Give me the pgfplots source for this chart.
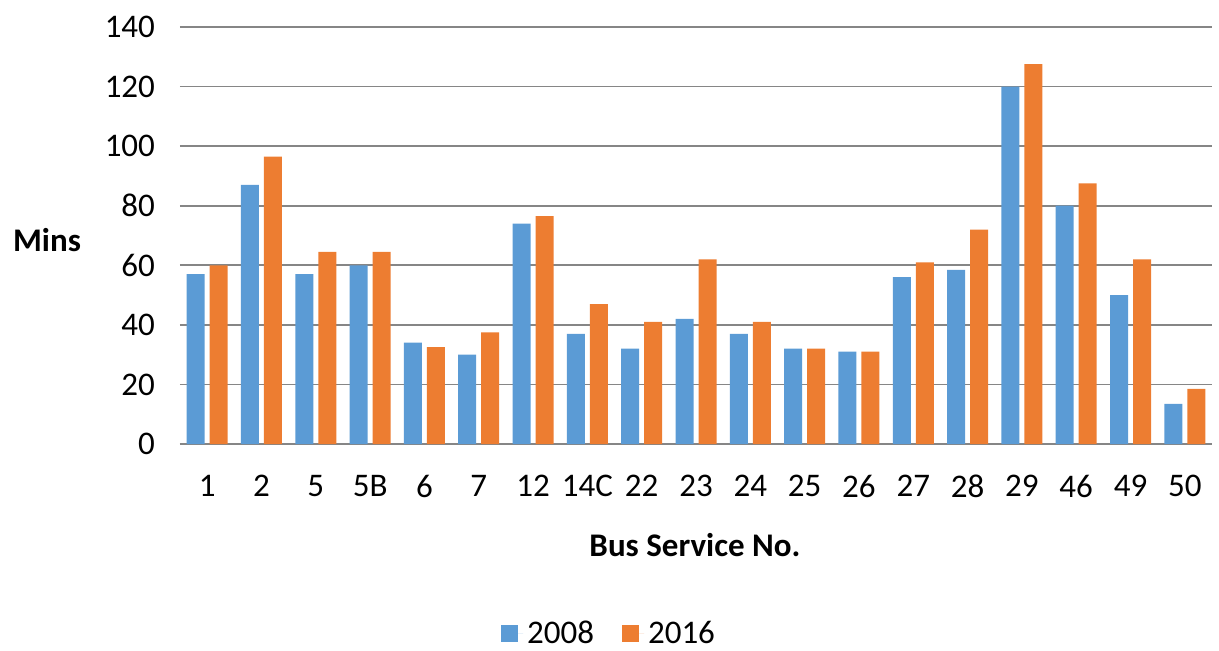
\documentclass[border=0pt]{standalone}
\usepackage{pgfplots}
\pgfplotsset{compat=1.18}
\usepackage{pgfplotstable}
\usepackage{fontspec}
\setmainfont{Carlito}

\definecolor{xlblue}{RGB}{91,155,213}
\definecolor{xlorange}{RGB}{237,125,49}
\definecolor{gridgray}{RGB}{134,134,134}

\pgfplotstableread{
x  cat  a     b
0  1    57    60
1  2    87    96.5
2  5    57    64.5
3  5B   60    64.5
4  6    34    32.5
5  7    30    37.5
6  12   74    76.5
7  14C  37    47
8  22   32    41
9  23   42    62
10 24   37    41
11 25   32    32
12 26   31    31
13 27   56    61
14 28   58.5  72
15 29   120   127.5
16 46   80    87.5
17 49   50    62
18 50   13.5  18.5
}\bustimes

\begin{document}
\begin{tikzpicture}
\path[use as bounding box] (-90pt,-103pt) rectangle (519.5pt,222pt);
\begin{axis}[
width=516pt,
height=208.5pt,
scale only axis,
font=\fontsize{16.5}{19}\selectfont,
/pgf/number format/assume math mode=true,
ybar,
bar width=9pt,
xmin=-0.5, xmax=18.5,
ymin=0, ymax=140,
ytick={0,20,...,140},
xtick=data,
xticklabels from table={\bustimes}{cat},
major tick length=0pt,
axis line style={draw=none},
ymajorgrids,
y grid style={gridgray, line width=0.8pt},
yticklabel style={xshift=-9pt},
xticklabel style={yshift=-12pt},
legend columns=2,
legend style={
  draw=none,
  at={(0.4167,-0.455)},
  anchor=center,
  font=\fontsize{16.5}{19}\selectfont,
  /tikz/every even column/.append style={column sep=12pt},
},
legend image code/.code={\fill[#1] (0pt,-4.3pt) rectangle (8.5pt,4.2pt); \path (0pt,0pt) -- (11pt,0pt);},
clip=false,
]
\draw[gridgray, line width=0.8pt] (rel axis cs:0,0) -- (rel axis cs:1,0);
\addplot [fill=xlblue, draw=none, bar shift=-5.75pt] table [x=x, y=a] {\bustimes};
\addlegendentry{2008}
\addplot [fill=xlorange, draw=none, bar shift=5.75pt] table [x=x, y=b] {\bustimes};
\addlegendentry{2016}
\node[font=\fontsize{16.5}{19}\selectfont\bfseries] at ([xshift=-66.5pt]rel axis cs:0,0.488) {Mins};
\node[font=\fontsize{16.5}{19}\selectfont\bfseries] at ([yshift=-50.5pt]rel axis cs:0.499,0) {Bus Service No.};
\end{axis}
\end{tikzpicture}
\end{document}
